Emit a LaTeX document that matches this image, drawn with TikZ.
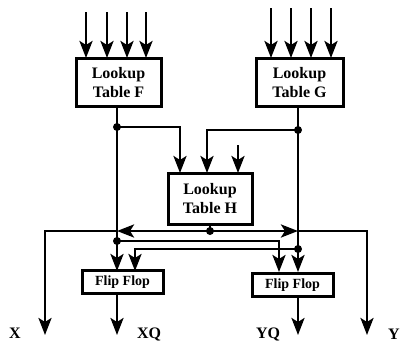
\documentclass[tikz,border=0pt]{standalone}
\usepackage{fontspec}
\setmainfont{Liberation Serif}
\usetikzlibrary{arrows.meta}
\begin{document}
\begin{tikzpicture}[x=1pt,y=-1pt,
  wire/.style={line width=2.8pt},
  arr/.style={wire,-{Stealth[length=17pt,width=13pt,inset=4pt]}},
  lut/.style={draw,line width=3pt,minimum width=85pt,minimum height=48pt,inner sep=0pt,align=center,font=\bfseries\fontsize{16}{19}\selectfont},
  ff/.style={draw,line width=3pt,minimum width=81pt,minimum height=23pt,inner sep=0pt,font=\bfseries\fontsize{14}{16}\selectfont},
  lbl/.style={font=\bfseries\fontsize{16}{18}\selectfont,inner sep=0pt},
  jdot/.style={circle,fill,inner sep=0pt,minimum size=8pt}]
\useasboundingbox (0,0) rectangle (400,346);
% boxes
\node[lut] (F) at (118.5,82.5) {Lookup\\Table F};
\node[lut,minimum width=87pt] (G) at (299.5,82.5) {Lookup\\Table G};
\node[lut,minimum width=84pt,minimum height=51pt] (H) at (210,198.5) {Lookup\\Table H};
\node[ff] (FFL) at (122.5,282) {Flip Flop};
\node[ff] (FFR) at (292.5,285) {Flip Flop};
% inputs of F and G
\foreach \x in {86,107,127,146} \draw[arr] (\x,12) -- (\x,58);
\foreach \x in {271,291,311,331} \draw[arr] (\x,8) -- (\x,58);
% junctions
\node[jdot] (jF) at (117,127) {};
\node[jdot] (jG) at (298,130) {};
\node[jdot] (jH) at (210,231) {};
\node[jdot] (jF2) at (117,241) {};
\node[jdot] (jG2) at (298,249) {};
\coordinate (mF) at (117,231);
\coordinate (mG) at (298,231);
% F and G outputs
\draw[wire] (117,107) -- (jF.center) -- (mF) -- (jF2.center);
\draw[arr] (jF2.center) -- (117,271);
\draw[wire] (298,107) -- (jG.center) -- (mG) -- (jG2.center);
\draw[arr] (jG2.center) -- (298,272);
\draw[arr] (jF.center) -| (180,173);
\draw[arr] (jG.center) -| (207,173);
\draw[arr] (238,145) -- (238,173);
% H output
\draw[wire] (210,224) -- (jH.center);
\draw[arr] (jH.center) -- (mF);
\draw[arr] (jH.center) -- (mG);
% cross connections
\draw[arr] (jF2.center) -| (279,272);
\draw[arr] (jG2.center) -| (135,271);
% outputs
\coordinate (xo) at (45,335);
\coordinate (yo) at (367,335);
\draw[arr] (mF) -| (xo);
\draw[arr] (mG) -| (yo);
\draw[arr] (117,293) -- (117,335);
\draw[arr] (298,297) -- (298,335);
% labels
\node[lbl] (lX) at (15,333) {X};
\node[lbl] (lXQ) at (149,334) {XQ};
\node[lbl] (lYQ) at (268,334) {YQ};
\node[lbl] (lY) at (394,334) {Y};
\end{tikzpicture}
\end{document}
